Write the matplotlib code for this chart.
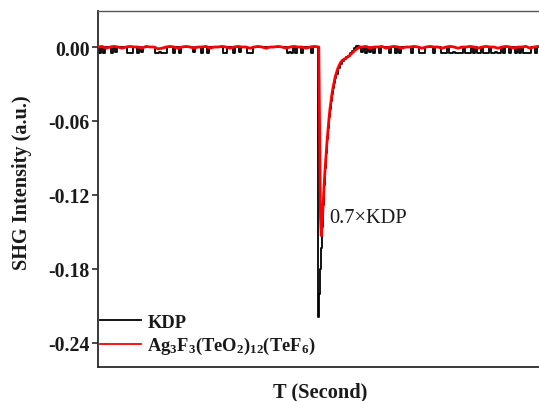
import numpy as np
import matplotlib
matplotlib.use("Agg")
import matplotlib.pyplot as plt
from matplotlib.ticker import FormatStrFormatter, FixedLocator

plt.rcParams["font.family"] = ["Liberation Serif", "DejaVu Serif"]
plt.rcParams["axes.unicode_minus"] = False
plt.rcParams["mathtext.fontset"] = "custom"
plt.rcParams["mathtext.rm"] = "Liberation Serif:bold"
plt.rcParams["mathtext.default"] = "regular"

SCALE = 1e-3  # trace values are stored in units of 1e-3 (a.u.)

# ---- KDP reference trace -------------------------------------------------
# baseline before the pulse, sampled every 2 time units from t = 0
kdp_pre = [0, -5, 0, -5, 0, 0, 0, -5, 0, -4,
           0, 0, 0, 0, 0, -5, -5, -5, 0, 0,
           -5, 0, -4, 0, 0, 0, 0, 0, 0, -5,
           -5, -4, -5, -5, -5, 0, 0, 0, -5, 0,
           0, -5, 0, 0, 0, 0, 0, 0, -4, 0,
           0, 0, -5, 0, 0, -5, 0, 0, 0, 0,
           0, 0, 0, -5, -5, 0, 0, 0, -5, 0,
           0, -4, 0, 0, 0, -5, -5, -5, 0, 0,
           0, 0, 0, 0, 0, 0, 0, 0, 0, 0,
           0, 0, 0, 0, 0, -5, -4, -5, 0, -5,
           0, 0, -5, 0, 0, 0, 0, -5, 0, 0]
# pulse and decay
kdp_pulse_t = [219.6, 220.0, 220.5,
               221.5, 222.5, 223.5, 224.5, 225.5, 226.5, 227.5, 228.5, 229.5,
               230.5, 231.5, 232.5, 233.5, 234.5, 235.5, 236.5, 237.5, 238.5,
               240.5, 242.5, 244.5, 246.5, 248.5, 250.5, 252.5, 254.5, 256.5, 258.5,
               260.0]
kdp_pulse_v = [0, -120, -219,
               -200, -180, -163, -146, -128, -112, -98, -86, -75,
               -66, -57, -50, -44, -38, -33, -29, -25, -22,
               -17, -14, -11.5, -10, -8.5, -7, -5, -3, -1, 0.5,
               1]
# baseline after the pulse, sampled every 2 time units from t = 262
kdp_post = [0, -4, 0, -5, 0, -4, 0, -5, 0, 0,
            -5, 0, 0, 0, 0, -5, 0, 0, -5, 0,
            -5, 0, 0, 0, 0, 0, -5, 0, 0, 0,
            -5, -5, -5, 0, 0, 0, 0, -5, 0, 0,
            0, -5, -5, -5, 0, -5, -5, -4, -5, -5,
            -5, -5, 0, -5, -5, -5, 0, -5, 0, -5,
            -5, 0, -5, -5, -5, 0, -5, -5, -4, -5,
            -5, 0, -5, 0, 0, -5, 0, 0, -5, 0,
            -5, 0, -5, -5, -5, -5, 0, 0, -5, 0,
            0, 0]

# ---- Ag3F3(TeO2)12(TeF6) trace -------------------------------------------
# baseline before the pulse, sampled every 4 time units from t = 0
ag_pre = [0, 0.5, -1, 0, 0.5, 0, -1, 0, 0.5, 0,
          0, -1, 0.5, 0, 0, -1.5, -1, 0, 0.5, 0,
          -1, 0, 0.5, 0, -1, 0, 0, 0.5, -1, 0,
          0, 0.5, 0, -1, 0, 0.5, 0, 0, -1, 0,
          0.5, 0, -1, 0, 0, 0.5, 0, -1, 0, 0.5,
          0, 0, -1, 0, 0.5]
ag_pulse_t = [220.8, 221.5, 222.5, 223.2,
              224, 225, 226, 227, 228, 229, 230, 231, 232, 233, 234, 235, 236, 237, 238,
              240, 242, 244, 246, 248, 250, 252, 254, 256, 258, 260, 262]
ag_pulse_v = [0, -60, -138, -153,
              -146, -130, -114, -100, -88, -77, -67, -58, -50, -44, -38, -33, -29, -25, -22,
              -17, -13.5, -11, -10, -9, -8, -6.5, -5, -3.5, -2, -1, 0]
# baseline after the pulse, sampled every 4 time units from t = 264
ag_post = [0, 0.5, -1, 0, 0, 0.5, -1, 0, 0.5, 0,
           -1, 0, 0, 0.5, 0, -1, 0, 0.5, 0, 0,
           -1, 0, 0.5, 0, -1, 0, 0, 0.5, 0, -1,
           0, 0.5, 0, 0, -1, 0, 0.5, 0, -1, 0,
           0, 0.5, -1, 0, 0.5, 0]

yticks = [0.00, -0.06, -0.12, -0.18, -0.24]

kdp_t = np.concatenate([np.arange(len(kdp_pre)) * 2.0, kdp_pulse_t,
                        262 + np.arange(len(kdp_post)) * 2.0])
kdp_v = np.concatenate([kdp_pre, kdp_pulse_v, kdp_post]) * SCALE
ag_t = np.concatenate([np.arange(len(ag_pre)) * 4.0, ag_pulse_t,
                       264 + np.arange(len(ag_post)) * 4.0])
ag_v = np.concatenate([ag_pre, ag_pulse_v, ag_post]) * SCALE

W, H = 539, 402
fig = plt.figure(figsize=(W / 100, H / 100), dpi=100)
ax = fig.add_axes([98 / W, 1 - 368 / H, 444 / W, 356 / H])

ax.plot(kdp_t, kdp_v, color="black", lw=1.3, label="KDP", zorder=2,
        drawstyle="steps-mid")
ax.plot(ag_t, ag_v, color="#ff0000", lw=2.0,
        label="Ag$_3$F$_3$(TeO$_2$)$_{12}$(TeF$_6$)", zorder=3)

ax.set_xlim(0, 444)
ax.set_ylim(-0.2595, 0.0292)
ax.yaxis.set_major_locator(FixedLocator(yticks))
ax.yaxis.set_major_formatter(FormatStrFormatter("%.2f"))
ax.set_xticks([])

for side in ("left", "bottom", "top"):
    ax.spines[side].set_color("#2a2a2a")
    ax.spines[side].set_linewidth(1.3)
ax.spines["top"].set_color("#555555")
ax.spines["top"].set_linewidth(1.0)
ax.spines["right"].set_visible(False)

ax.tick_params(axis="y", direction="out", length=4.5, width=1.2,
               color="#2a2a2a", pad=1.5, labelsize=14.2)
for lab in ax.get_yticklabels():
    lab.set_fontweight("bold")
    lab.set_color("#1a1a1a")

ax.set_ylabel("SHG Intensity (a.u.)", fontsize=14.6, fontweight="bold",
              color="#1a1a1a")
ax.yaxis.set_label_coords(-0.149, 0.52)
ax.set_xlabel("T (Second)", fontsize=14.7, fontweight="bold", color="#1a1a1a")
ax.xaxis.set_label_coords(0.5, -0.042)

ax.text(231, -0.138, "0.7\u00d7KDP", fontsize=14.7, color="#1a1a1a",
        ha="left", va="center")

leg = ax.legend(loc="lower left", bbox_to_anchor=(0.005, 0.03), frameon=False,
                prop={"weight": "bold", "size": 13.3}, handlelength=2.2,
                handletextpad=0.35, labelspacing=0.25, borderpad=0,
                borderaxespad=0)
for txt in leg.get_texts():
    txt.set_color("#1a1a1a")
for handle in leg.get_lines():
    handle.set_linewidth(1.3)

fig.savefig("out.png", dpi=100, facecolor="white")
